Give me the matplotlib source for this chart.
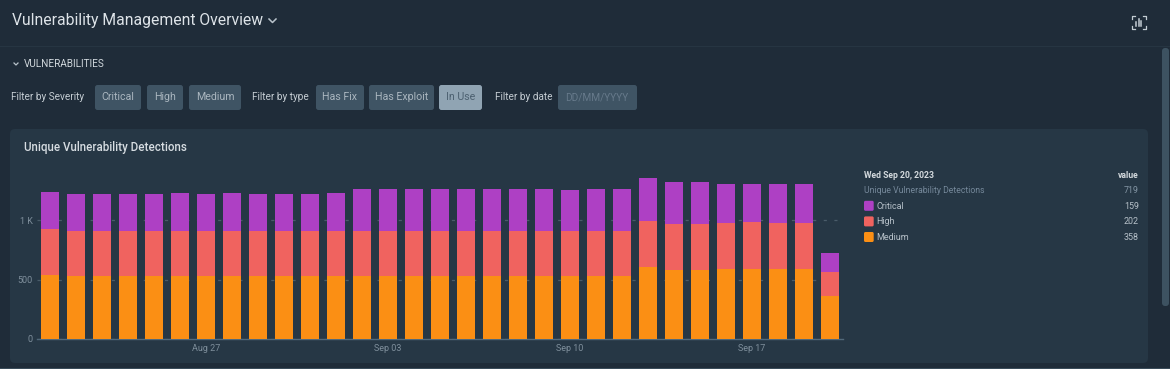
import matplotlib
matplotlib.use("Agg")
import matplotlib.pyplot as plt
from matplotlib.patches import FancyBboxPatch, Rectangle
import pandas as pd
import numpy as np

plt.rcParams['font.family'] = ['Roboto', 'DejaVu Sans']

W, H = 1170, 369
dates = pd.date_range("2023-08-21", "2023-09-20")
medium = [535,526,526,526,526,530,530,530,530,530,530,532,532,532,532,532,532,532,532,532,532,532,532,608,580,580,588,588,588,588,358]
high = [386,378,378,378,378,374,374,374,374,374,374,372,372,372,372,372,372,372,372,372,372,372,372,386,386,386,389,392,389,389,202]
critical = [317,311,317,317,317,320,311,320,317,317,311,320,359,356,353,359,359,359,359,353,350,353,353,356,350,350,322,322,328,328,159]
series_colors = {"Critical": "#ae40c4", "High": "#f0635f", "Medium": "#fb8f14"}
y_ticks = [0, 500, 1000]
y_tick_labels = ["0", "500", "1 K"]
x_tick_dates = ["2023-08-27", "2023-09-03", "2023-09-10", "2023-09-17"]
x_tick_labels = ["Aug 27", "Sep 03", "Sep 10", "Sep 17"]
severity_chips = [("Critical", 95, 141), ("High", 147, 183), ("Medium", 189, 241)]
type_chips = [("Has Fix", 316, 364), ("Has Exploit", 369, 434)]
legend_rows = [("Critical", "159"), ("High", "202"), ("Medium", "358")]

BG = "#1f2c39"
PANEL = "#263745"
fig = plt.figure(figsize=(W/100, H/100), dpi=100, facecolor=BG)

ui = fig.add_axes([0, 0, 1, 1], zorder=0)
ui.set_xlim(0, W); ui.set_ylim(H, 0); ui.axis("off")

def rbox(x0, y0, x1, y1, color, r=2.5, **kw):
    p = FancyBboxPatch((x0+r, y0+r), x1-x0-2*r, y1-y0-2*r,
                       boxstyle=f"round,pad={r},rounding_size={r}",
                       fc=color, ec="none", **kw)
    ui.add_patch(p)

ui.add_patch(Rectangle((0, 46), W, 1, fc="#263542", ec="none"))
ui.add_patch(Rectangle((0, 367.5), W, 1.5, fc="#3a4c5a", ec="none"))
rbox(10, 129, 1148, 363, PANEL, r=5)
rbox(1162, 48, 1169, 306, "#3d5261", r=3)

ui.text(12, 20, "Vulnerability Management Overview", fontsize=11.3, color="#dde3e8", va="center", ha="left")
ui.plot([269, 272.5, 276], [19, 22.5, 19], color="#b9c3cb", lw=1.1)
ui.plot([14, 16, 18], [63, 65, 63], color="#b9c3cb", lw=0.9)
ui.text(24, 64, "VULNERABILITIES", fontsize=7.2, color="#d0d7dc", va="center", ha="left")

ui.text(11, 97, "Filter by Severity", fontsize=7.2, color="#c5cdd3", va="center")
ui.text(252, 97, "Filter by type", fontsize=7.2, color="#c5cdd3", va="center")
ui.text(495, 97, "Filter by date", fontsize=7.2, color="#c5cdd3", va="center")
for label, x0, x1 in severity_chips + type_chips:
    rbox(x0, 85, x1, 110, "#3f5464")
    ui.text((x0+x1)/2, 97.5, label, fontsize=7.7, color="#aab6bf", ha="center", va="center")
rbox(439, 85, 482, 110, "#90a4b3")
ui.text(460.5, 97.5, "In Use", fontsize=7.7, color="#4c6070", ha="center", va="center")
rbox(558, 85, 637, 110, "#3f5464")
ui.text(597, 97.5, "DD/MM/YYYY", fontsize=7.3, color="#66798a", ha="center", va="center")
ui.text(24, 148, "Unique Vulnerability Detections", fontsize=8.3, color="#d7dde2", va="center", fontweight="medium")

ic = "#c3ccd3"
for cx, cy, sx, sy in [(1132, 15.5, 1, 1), (1145.5, 15.5, -1, 1), (1132, 28.5, 1, -1), (1145.5, 28.5, -1, -1)]:
    ui.plot([cx, cx, cx+3*sx], [cy+3*sy, cy, cy], color=ic, lw=0.9)
for bx, t in [(1136.3, 22), (1138.8, 18.5), (1141.3, 21)]:
    ui.plot([bx, bx], [t, 26], color=ic, lw=1.1)

LX, VX = 864, 1139
ui.text(LX, 175, "Wed Sep 20, 2023", fontsize=6.2, fontweight="bold", color="#d4dade", va="center")
ui.text(VX, 175, "value", fontsize=6.2, fontweight="bold", color="#d4dade", va="center", ha="right")
ui.text(LX, 190.5, "Unique Vulnerability Detections", fontsize=6.2, color="#75889a", va="center")
ui.text(VX, 190.5, "719", fontsize=6.4, color="#8496a5", va="center", ha="right")
for i, (name, val) in enumerate(legend_rows):
    yc = 205.8 + i*15.6
    rbox(864, yc-5, 873.7, yc+5, series_colors[name], r=1.5)
    ui.text(876.7, yc+0.3, name, fontsize=6.5, color="#b7c1c9", va="center")
    ui.text(VX, yc+0.3, val, fontsize=6.4, color="#b7c1c9", va="center", ha="right")

L, R, B, T = 36.7, 843, 339, 172.4
ax = fig.add_axes([L/W, 1-B/H, (R-L)/W, (B-T)/H], zorder=2)
ax.patch.set_alpha(0)
x = np.arange(len(dates))
m, h, c = np.array(medium), np.array(high), np.array(critical)
ax.yaxis.grid(True, color="#4a5c6a", lw=0.9, dashes=(2.5, 6))
ax.set_axisbelow(True)
bw = 18/26
ax.bar(x, m, bw, color=series_colors["Medium"], zorder=3)
ax.bar(x, h, bw, bottom=m, color=series_colors["High"], zorder=3)
ax.bar(x, c, bw, bottom=m+h, color=series_colors["Critical"], zorder=3)
ax.set_xlim(-0.5, 30.5)
ax.set_ylim(0, 1400)
ax.set_yticks(y_ticks, y_tick_labels)
ax.set_xticks([list(dates.strftime("%Y-%m-%d")).index(d) for d in x_tick_dates], x_tick_labels)
ax.tick_params(axis="both", length=0, labelsize=6.5, labelcolor="#7f8f9c", pad=3)
ax.tick_params(axis="x", pad=3.5)
for s in ["top", "right", "left"]:
    ax.spines[s].set_visible(False)
ax.spines["bottom"].set_color("#52697a")
ax.spines["bottom"].set_linewidth(1.0)

fig.savefig("out.png", dpi=100, facecolor=BG)
